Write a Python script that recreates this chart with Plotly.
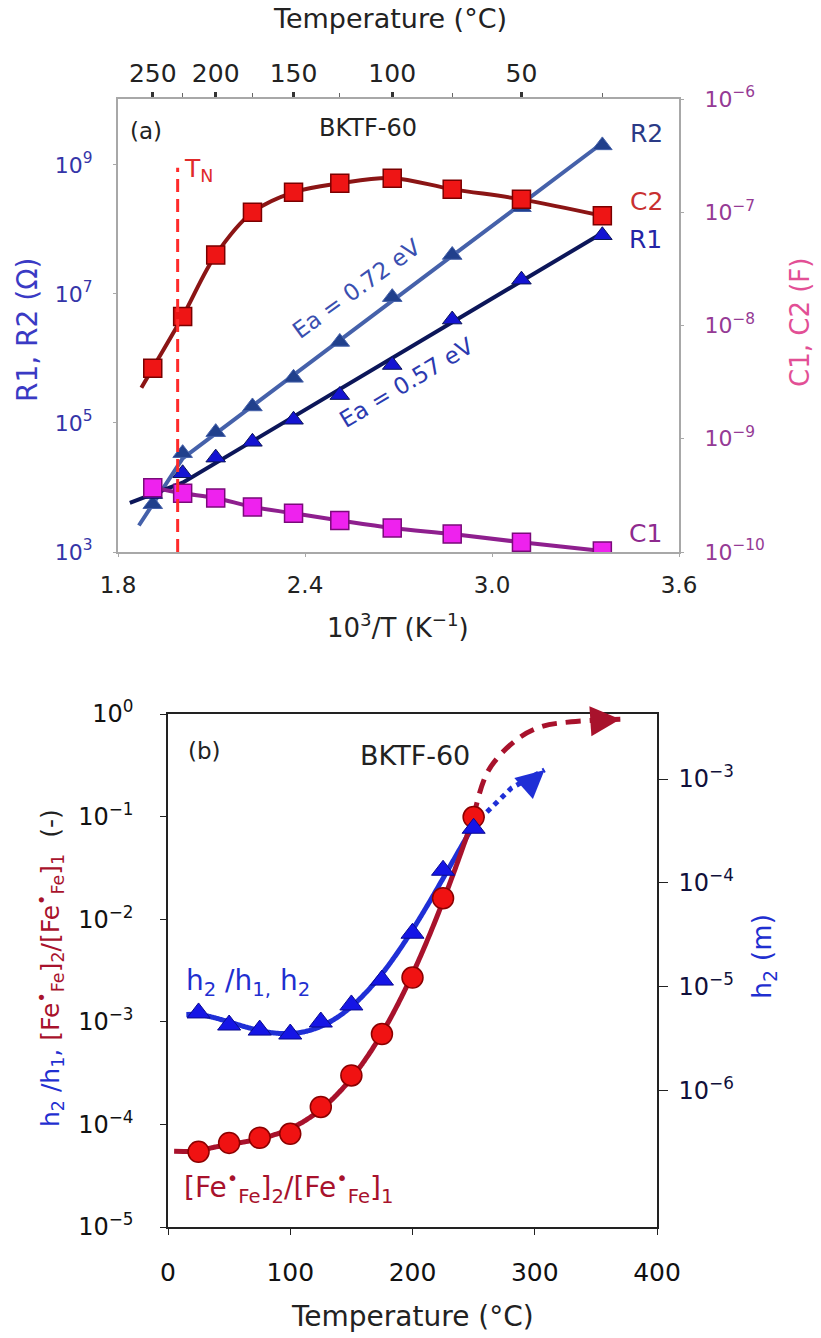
import numpy as np
import plotly.graph_objects as go

W, H = 821, 1338
FONT = "DejaVu Sans, Verdana, sans-serif"

# ---------------- panel (a): equivalent-circuit parameters ----------------
temp_a = [250, 225, 200, 175, 150, 125, 100, 75, 50, 25]          # °C
R1 = [7.9e3, 1.66e4, 2.9e4, 5.1e4, 1.12e5, 2.7e5, 7.9e5, 4.0e6, 1.66e7, 8.1e7]      # Ω
R2 = [5.5e3, 3.4e4, 7.2e4, 1.8e5, 5.0e5, 1.8e6, 8.9e6, 4.0e7, 2.2e8, 2.0e9]         # Ω
C1 = [3.7e-10, 3.3e-10, 3.0e-10, 2.5e-10, 2.2e-10, 1.9e-10, 1.63e-10, 1.44e-10, 1.22e-10, 1.02e-10]  # F
C2 = [4.2e-9, 1.2e-8, 4.2e-8, 1.0e-7, 1.5e-7, 1.8e-7, 2.0e-7, 1.6e-7, 1.3e-7, 9.3e-8]  # F
Ea_R1 = 0.57   # eV
Ea_R2 = 0.72   # eV
T_N = 229      # °C
top_major = [250, 200, 150, 100, 50]
top_minor = [225, 175, 125, 75, 25]
x_ticks_a = [1.8, 2.4, 3.0, 3.6]
r_ticks = [1e3, 1e5, 1e7, 1e9]
r_labels = ["10<sup>3</sup>", "10<sup>5</sup>", "10<sup>7</sup>", "10<sup>9</sup>"]
c_ticks = [1e-10, 1e-9, 1e-8, 1e-7, 1e-6]
c_labels = ["10<sup>−10</sup>", "10<sup>−9</sup>", "10<sup>−8</sup>", "10<sup>−7</sup>", "10<sup>−6</sup>"]

# ---------------- panel (b): hole-site ratios ----------------
temp_b = [25, 50, 75, 100, 125, 150, 175, 200, 225, 250]           # °C
h_ratio = [1.22e-3, 9.3e-4, 8.3e-4, 7.6e-4, 9.95e-4, 1.46e-3, 2.55e-3, 7.3e-3, 3.0e-2, 7.7e-2]
fe_ratio = [5.4e-5, 6.6e-5, 7.4e-5, 8.1e-5, 1.48e-4, 3.0e-4, 7.6e-4, 2.7e-3, 1.6e-2, 9.9e-2]
fe_trend_T = [250, 262, 285, 305, 330, 370]
fe_trend = [0.099, 0.28, 0.56, 0.75, 0.84, 0.89]
h_trend_T = [255, 281, 308]
h_trend = [0.095, 0.19, 0.285]
b_left_ticks = [1e-5, 1e-4, 1e-3, 1e-2, 1e-1, 1e0]
b_left_labels = ["10<sup>−5</sup>", "10<sup>−4</sup>", "10<sup>−3</sup>", "10<sup>−2</sup>", "10<sup>−1</sup>", "10<sup>0</sup>"]
b_right_ticks = [1e-6, 1e-5, 1e-4, 1e-3]
b_right_labels = ["10<sup>−6</sup>", "10<sup>−5</sup>", "10<sup>−4</sup>", "10<sup>−3</sup>"]


def inv_T(t_c):
    return 1000.0 / (np.asarray(t_c, dtype=float) + 273.15)


def px(x):
    return x / W


def py(y):
    return 1 - y / H


K_LN10 = 8.617e-5 * np.log(10) * 1000.0   # eV per decade per (1000/T)
xa = inv_T(temp_a)


def extend_first(vals, x_start):
    """Prepend a point continuing the first segment (log scale) down to x_start."""
    lv = np.log10(vals)
    seg = (lv[1] - lv[0]) / (xa[1] - xa[0])
    return [x_start] + list(xa), [10 ** (lv[0] + seg * (x_start - xa[0]))] + list(vals)


def arrhenius_line(R, Ea, x_start):
    """Fixed-slope Arrhenius fit below T_N plus the segment through the 250 °C point."""
    lr = np.log10(R)
    slope = Ea / K_LN10
    icpt = np.mean(lr[1:] - slope * xa[1:])
    y1 = icpt + slope * xa[1]
    seg = (y1 - lr[0]) / (xa[1] - xa[0])
    y_start = lr[0] + seg * (x_start - xa[0])
    xs = [x_start, xa[0], xa[1], xa[-1]]
    ys = [y_start, lr[0], y1, icpt + slope * xa[-1]]
    return xs, list(10 ** np.array(ys))


fig = go.Figure()

# R2 and R1 (left axis)
for R, Ea, xs0, lcol, mcol in [(R2, Ea_R2, 1.867, "#4561aa", "#21408c"),
                               (R1, Ea_R1, 1.838, "#0c1659", "#1414d2")]:
    lx, ly = arrhenius_line(R, Ea, xs0)
    fig.add_trace(go.Scatter(x=lx, y=ly, mode="lines", line=dict(color=lcol, width=4),
                             xaxis="x", yaxis="y", showlegend=False, hoverinfo="skip"))
    fig.add_trace(go.Scatter(x=xa, y=R, mode="markers",
                             marker=dict(symbol="triangle-up", size=17, color=mcol,
                                         line=dict(color=lcol, width=1)),
                             xaxis="x", yaxis="y", showlegend=False))

# top temperature axis holder
fig.add_trace(go.Scatter(x=[None], y=[None], xaxis="x2", yaxis="y", showlegend=False, hoverinfo="skip"))

# C1 and C2 (right axis)
fig.add_trace(go.Scatter(x=xa, y=C1, mode="lines", line=dict(color="#8e1f8e", width=4, shape="spline"),
                         xaxis="x", yaxis="y2", showlegend=False, hoverinfo="skip"))
fig.add_trace(go.Scatter(x=xa, y=C1, mode="markers",
                         marker=dict(symbol="square", size=18, color="#ee22ee", line=dict(color="#7a0a7a", width=1.5)),
                         xaxis="x", yaxis="y2", showlegend=False))
cx, cy = extend_first(C2, 1.875)
fig.add_trace(go.Scatter(x=cx, y=cy, mode="lines", line=dict(color="#8b1515", width=4, shape="spline"),
                         xaxis="x", yaxis="y2", showlegend=False, hoverinfo="skip"))
fig.add_trace(go.Scatter(x=xa, y=C2, mode="markers",
                         marker=dict(symbol="square", size=18, color="#ee1515", line=dict(color="#7a0000", width=1.5)),
                         xaxis="x", yaxis="y2", showlegend=False))

# ---------------- panel (b) traces ----------------
tb = np.asarray(temp_b, dtype=float)


def smooth(vals, t0, t1, deg=4):
    """Polynomial trend in log space over the measured range, held flat below it."""
    p = np.polyfit(tb, np.log10(vals), deg)
    tt = np.linspace(tb[0], t1, 200)
    yy = 10 ** np.polyval(p, tt)
    return np.concatenate([[t0], tt]), np.concatenate([[yy[0]], yy])


tt, yy = smooth(h_ratio, 15, 252)
fig.add_trace(go.Scatter(x=tt, y=yy, mode="lines", line=dict(color="#1f2fd6", width=5, shape="spline"),
                         xaxis="x3", yaxis="y3", showlegend=False, hoverinfo="skip"))
tt, yy = smooth(fe_ratio, 5, 252)
fig.add_trace(go.Scatter(x=tt, y=yy, mode="lines", line=dict(color="#a8122c", width=5, shape="spline"),
                         xaxis="x3", yaxis="y3", showlegend=False, hoverinfo="skip"))
fig.add_trace(go.Scatter(x=fe_trend_T, y=fe_trend, mode="lines",
                         line=dict(color="#a8122c", width=5, dash="15px,9px", shape="spline"),
                         xaxis="x3", yaxis="y3", showlegend=False, hoverinfo="skip"))
fig.add_trace(go.Scatter(x=h_trend_T, y=h_trend, mode="lines",
                         line=dict(color="#1f2fd6", width=5, dash="dot"),
                         xaxis="x3", yaxis="y3", showlegend=False, hoverinfo="skip"))
fig.add_trace(go.Scatter(x=temp_b, y=fe_ratio, mode="markers",
                         marker=dict(symbol="circle", size=21, color="#f01212", line=dict(color="#8b0000", width=1.5)),
                         xaxis="x3", yaxis="y3", showlegend=False))
fig.add_trace(go.Scatter(x=temp_b, y=h_ratio, mode="markers",
                         marker=dict(symbol="triangle-up", size=20, color="#1515e6", line=dict(color="#0a0a90", width=1)),
                         xaxis="x3", yaxis="y3", showlegend=False))
fig.add_trace(go.Scatter(x=[None], y=[None], xaxis="x3", yaxis="y4", showlegend=False, hoverinfo="skip"))

GRAY = "#a8a8a8"
axis_common = dict(showgrid=False, zeroline=False, showline=True, automargin=False)

fig.update_layout(
    template="none",
    width=W, height=H, autosize=False,
    margin=dict(l=0, r=0, t=0, b=0, pad=0),
    paper_bgcolor="white", plot_bgcolor="white",
    font=dict(family=FONT, color="#222"),
    showlegend=False,
    xaxis=dict(domain=[px(118), px(679)], anchor="y", range=[1.8, 3.6],
               tickmode="array", tickvals=x_ticks_a, ticktext=["1.8", "2.4", "3.0", "3.6"],
               ticks="outside", ticklen=3, tickcolor=GRAY, linecolor=GRAY, linewidth=2,
               tickfont=dict(size=23, color="#222"), ticklabelstandoff=8, **axis_common),
    xaxis2=dict(overlaying="x", side="top", anchor="y", range=[1.8, 3.6],
                tickmode="array", tickvals=list(inv_T(top_major)), ticktext=[str(t) for t in top_major],
                ticks="outside", ticklen=5, tickwidth=3, tickcolor="#333", linecolor=GRAY, linewidth=2,
                minor=dict(tickvals=list(inv_T(top_minor)), ticks="outside", ticklen=4, tickwidth=1, tickcolor="#666"),
                tickfont=dict(size=25, color="#222"), ticklabelstandoff=0, **axis_common),
    yaxis=dict(domain=[py(552), py(99)], anchor="x", type="log", range=[3, 10.02],
               tickmode="array", tickvals=r_ticks, ticktext=r_labels,
               ticks="outside", ticklen=3, tickcolor=GRAY, linecolor=GRAY, linewidth=2,
               tickfont=dict(size=22, color="#3535a8"), ticklabelstandoff=16, **axis_common),
    yaxis2=dict(overlaying="y", side="right", anchor="x", type="log", range=[-10, -6],
                tickmode="array", tickvals=c_ticks, ticktext=c_labels,
                ticks="outside", ticklen=3, tickcolor=GRAY, linecolor=GRAY, linewidth=2,
                tickfont=dict(size=22, color="#953a95"), ticklabelstandoff=16, **axis_common),
    xaxis3=dict(domain=[px(168), px(657)], anchor="y3", range=[0, 400],
                tickmode="array", tickvals=[0, 100, 200, 300, 400],
                ticks="outside", ticklen=6, tickcolor="#222", linecolor="#222", linewidth=1.5, mirror=True,
                tickfont=dict(size=25, color="#111"), ticklabelstandoff=16, **axis_common),
    yaxis3=dict(domain=[py(1227), py(714)], anchor="x3", type="log", range=[-5, 0],
                tickmode="array", tickvals=b_left_ticks, ticktext=b_left_labels,
                ticks="outside", ticklen=6, tickcolor="#222", linecolor="#222", linewidth=1.5,
                tickfont=dict(size=24, color="#111"), ticklabelstandoff=22, **axis_common),
    yaxis4=dict(overlaying="y3", side="right", anchor="x3", type="log", range=[-7.308, -2.375],
                tickmode="array", tickvals=b_right_ticks, ticktext=b_right_labels,
                ticks="outside", ticklen=9, tickcolor="#222", linecolor="#222", linewidth=1.5,
                tickfont=dict(size=24, color="#10103a"), ticklabelstandoff=6, **axis_common),
)

# Néel temperature marker
fig.add_shape(type="line", xref="x", yref="y domain",
              x0=float(inv_T(T_N)), x1=float(inv_T(T_N)), y0=0, y1=0.848,
              line=dict(color="#ff2a2a", width=3, dash="13px,7px"))


def note(text, x, y, size, color="#222", angle=0, xanchor="center"):
    fig.add_annotation(text=text, x=px(x), y=py(y), xref="paper", yref="paper",
                       showarrow=False, textangle=angle, xanchor=xanchor, yanchor="middle",
                       font=dict(family=FONT, size=size, color=color))


# panel (a) texts
note("Temperature (°C)", 390, 19, 27)
note("10<sup>3</sup>/T (K<sup>−1</sup>)", 398, 626, 26)
note("R1, R2 (Ω)", 27, 330, 28, "#3a3ac4", angle=-90)
note("C1, C2 (F)", 800, 323, 26, "#e24f95", angle=-90)
note("(a)", 146, 131, 23)
note("BKTF-60", 368, 128, 24)
note("T<sub>N</sub>", 198, 170, 25, "#e02a2a")
note("R2", 646, 133, 25, "#2a3a86")
note("C2", 646, 201, 25, "#c83030")
note("R1", 645, 240, 25, "#2424a6")
note("C1", 645, 533, 25, "#8e2a8e")
note("Ea = 0.72 eV", 356, 289, 23, "#3a4fb0", angle=-36)
note("Ea = 0.57 eV", 406, 383, 23, "#2b3ab0", angle=-31)

# panel (b) texts
note("Temperature (°C)", 413, 1316, 28)
left_title = ('<span style="color:#1f2fd0">h<sub>2</sub> /h<sub>1</sub>, </span>'
              '<span style="color:#a8122c">[Fe<sup>•</sup><sub>Fe</sub>]<sub>2</sub>/'
              '[Fe<sup>•</sup><sub>Fe</sub>]<sub>1</sub></span>\u00a0\u00a0(-)')
note(left_title, 50, 968, 25, angle=-90)
note("h<sub>2</sub> (m)", 764, 957, 27, "#1f2fd0", angle=-90)
note("(b)", 204, 751, 23)
note("BKTF-60", 415, 755, 27)
note("h<sub>2</sub> /h<sub>1,</sub> h<sub>2</sub>", 184, 982, 28, "#1f2fd0", xanchor="left")
note("[Fe<sup>•</sup><sub>Fe</sub>]<sub>2</sub>/[Fe<sup>•</sup><sub>Fe</sub>]<sub>1</sub>", 182, 1187, 28,
     "#a8122c", xanchor="left")

# arrowheads on the extrapolated trends
fig.add_annotation(x=fe_trend_T[-1], y=float(np.log10(fe_trend[-1])), xref="x3", yref="y3",
                   ax=-30, ay=2, showarrow=True, arrowhead=2, arrowsize=1.5, arrowwidth=4,
                   arrowcolor="#a8122c", text="")
fig.add_annotation(x=h_trend_T[-1], y=float(np.log10(h_trend[-1])), xref="x3", yref="y3",
                   ax=-18, ay=16, showarrow=True, arrowhead=2, arrowsize=1.4, arrowwidth=4,
                   arrowcolor="#1f2fd6", text="")

fig.write_html("out.html")
